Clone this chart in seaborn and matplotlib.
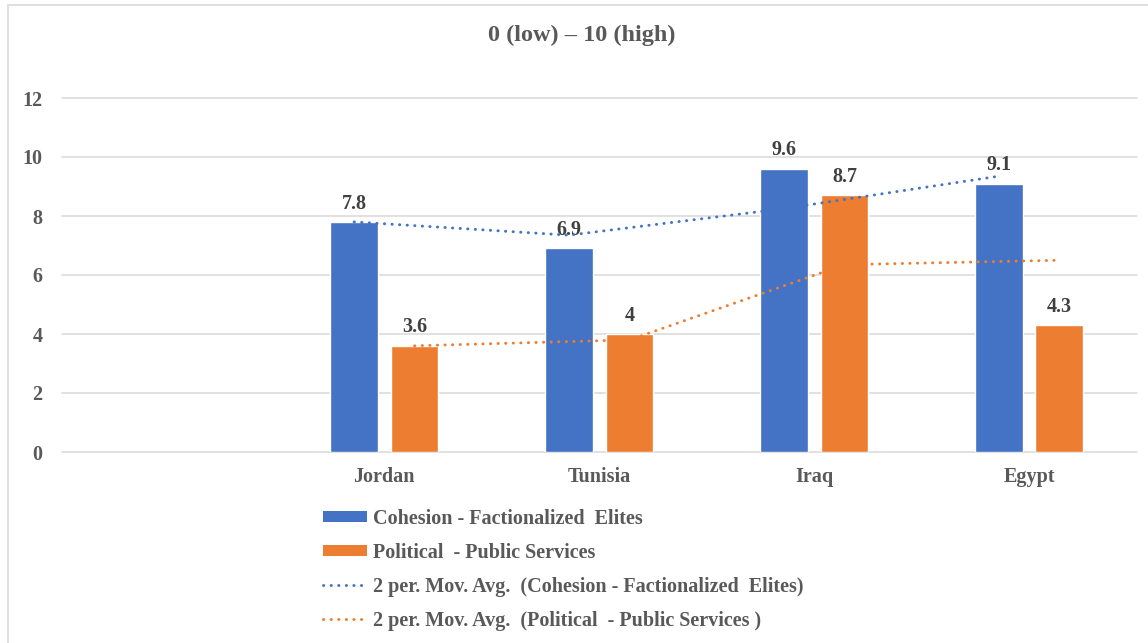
import numpy as np
import pandas as pd
import matplotlib
matplotlib.use("Agg")
import matplotlib.pyplot as plt
from matplotlib.patches import Patch, Rectangle
from matplotlib.lines import Line2D
import seaborn as sns

# Scores per country (the leading blank category is an empty slot on the axis)
countries = ["", "Jordan", "Tunisia", "Iraq", "Egypt"]
cohesion = [np.nan, 7.8, 6.9, 9.6, 9.1]
political = [np.nan, 3.6, 4.0, 8.7, 4.3]
series_names = ["Cohesion - Factionalized  Elites", "Political  - Public Services"]
avg_names = ["2 per. Mov. Avg.  (Cohesion - Factionalized  Elites)",
             "2 per. Mov. Avg.  (Political  - Public Services )"]
y_ticks = [0, 2, 4, 6, 8, 10, 12]
title = "0 (low) – 10 (high)"

sns.set_style("white")
plt.rcParams["font.family"] = ["Liberation Serif", "DejaVu Serif"]
plt.rcParams["font.weight"] = "bold"

BLUE, ORANGE = "#4472C4", "#ED7D31"
TXT = "#595959"
LBL = "#404040"
GRID = "#D9D9D9"
FS = 14.5

W, H = 1148, 643
fig = plt.figure(figsize=(W / 100, H / 100), dpi=100)
ax = fig.add_axes([62 / W, 1 - 452 / H, (1136.5 - 62) / W, (452 - 98) / H])

df = pd.DataFrame({
    "country": countries * 2,
    "score": cohesion + political,
    "series": [series_names[0]] * len(countries) + [series_names[1]] * len(countries),
})

group_width = 0.563
sns.barplot(data=df, x="country", y="score", hue="series", order=countries,
            hue_order=series_names, palette=[BLUE, ORANGE], width=group_width,
            gap=0.21, saturation=1, errorbar=None, legend=False, ax=ax)

for cont in ax.containers:
    ax.bar_label(cont, fmt="{:g}", padding=6, fontsize=FS, fontweight="bold", color=LBL)

# Two-period moving averages, drawn through the bar centres of each series
offset = group_width / 4
pos = np.arange(len(countries))
dot = dict(lw=2.1, linestyle=(0, (0.1, 2.5)), dash_capstyle="round")
mov_coh = pd.Series(cohesion).rolling(2, min_periods=1).mean()
mov_pol = pd.Series(political).rolling(2, min_periods=1).mean()
ax.plot(pos - offset, mov_coh, color=BLUE, zorder=4, **dot)
ax.plot(pos + offset, mov_pol, color=ORANGE, zorder=4, **dot)

ax.set_xlim(-0.5, len(countries) - 0.5)
ax.set_ylim(0, 12)
ax.set_yticks(y_ticks)
ax.set_xlabel("")
ax.set_ylabel("")
for s in ax.spines.values():
    s.set_visible(False)
ax.set_axisbelow(True)
ax.yaxis.grid(True, color=GRID, lw=1.1)
for gl in ax.get_ygridlines():
    gl.set_clip_on(False)
ax.tick_params(axis="y", length=0, pad=14, labelsize=FS, labelcolor=TXT)
ax.tick_params(axis="x", length=0, pad=11, labelsize=FS, labelcolor=TXT)
for t in ax.get_xticklabels() + ax.get_yticklabels():
    t.set_fontweight("bold")

fig.text(582 / W, 1 - 35 / H, title, ha="center", va="center",
         fontsize=17.5, fontweight="bold", color=TXT)

# Chart frame
fig.patches.append(Rectangle((7.5 / W, -0.1), 1.2, 1 - 5 / H + 0.1,
                             transform=fig.transFigure, fill=False,
                             ec=GRID, lw=1.2))

handles = [Patch(facecolor=BLUE, edgecolor="none"),
           Patch(facecolor=ORANGE, edgecolor="none"),
           Line2D([0], [0], color=BLUE, **dot),
           Line2D([0], [0], color=ORANGE, **dot)]
fig.legend(handles, series_names + avg_names, loc="upper left",
           bbox_to_anchor=(323 / W, 1 - 509 / H), frameon=False,
           borderpad=0, borderaxespad=0, handlelength=2.16, handleheight=0.45,
           handletextpad=0.3, labelspacing=0.69,
           prop={"weight": "bold", "size": FS}, labelcolor=TXT)

fig.savefig("out.png", dpi=100)
